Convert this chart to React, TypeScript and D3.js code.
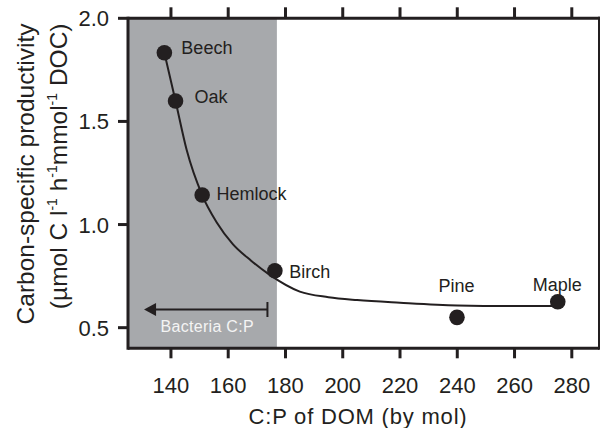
import React from "react";
import * as d3 from "d3";

// ---- data ----
const trees = ["Beech", "Oak", "Hemlock", "Birch", "Pine", "Maple"];
const cpDOM = [137.7, 141.6, 150.9, 176.3, 239.9, 275.1];
const productivity = [1.833, 1.599, 1.143, 0.776, 0.55, 0.626];

// fitted curve
const fitX = [137.7, 141.6, 145.5, 150.9, 156.0, 161.6, 168.0, 174.5, 185.0, 195.0, 205.0, 220.0, 240.0, 260.0, 275.1];
const fitY = [1.833, 1.599, 1.361, 1.143, 1.01, 0.905, 0.825, 0.756, 0.675, 0.648, 0.634, 0.621, 0.608, 0.605, 0.605];

const xTicks = [140, 160, 180, 200, 220, 240, 260, 280];
const yTicks = [0.5, 1.0, 1.5, 2.0];

const bacteriaCPLimit = 177; // shaded region upper bound
const arrowFrom = 173.7;
const arrowTo = 130.6;
const arrowLevel = 0.588;

const xDomain = [125, 289.5];
const yDomain = [0.4, 2.0];

// ---- layout ----
const W = 600;
const H = 428;
const left = 128;
const right = 599;
const top = 18.3;
const bottom = 348.3;

const FONT = "'Liberation Sans', Arial, Helvetica, sans-serif";
const INK = "#231f20";

// label offsets relative to point centre (px)
const labelOffset: Record<string, [number, number, string]> = {
  Beech: [17, 1, "start"],
  Oak: [19, 1.7, "start"],
  Hemlock: [14.4, 5, "start"],
  Birch: [14.3, 7.6, "start"],
  Pine: [-0.5, -25.6, "middle"],
  Maple: [-0.6, -10.7, "middle"],
};

export default function App() {
  const x = d3.scaleLinear().domain(xDomain).range([left, right]);
  const y = d3.scaleLinear().domain(yDomain).range([bottom, top]);

  const fitPts: [number, number][] = fitX.map((v, i) => [v, fitY[i]]);
  const line = d3
    .line<[number, number]>()
    .x((d) => x(d[0]))
    .y((d) => y(d[1]))
    .curve(d3.curveMonotoneX);

  const fmt = d3.format(".1f");
  const ay = y(arrowLevel);
  const tipX = x(arrowTo);
  const barX = x(arrowFrom);

  return (
    <svg
      width={W}
      height={H}
      style={{ position: "absolute", left: 0, top: 0, background: "#fff" }}
      fontFamily={FONT}
    >
      {/* shaded region */}
      <rect
        x={x(xDomain[0])}
        y={top}
        width={x(bacteriaCPLimit) - x(xDomain[0])}
        height={bottom - top}
        fill="#a7a9ac"
      />

      {/* bacteria arrow */}
      <line x1={tipX + 8} x2={barX} y1={ay} y2={ay} stroke={INK} strokeWidth={2} />
      <line x1={barX} x2={barX} y1={ay - 7.5} y2={ay + 7.5} stroke={INK} strokeWidth={2} />
      <path d={`M${tipX},${ay} L${tipX + 12},${ay - 6.5} L${tipX + 12},${ay + 6.5} Z`} fill={INK} />
      <text x={160.5} y={331.7} fontSize={16} letterSpacing={0.3} fill="#f4f4f4">
        Bacteria C:P
      </text>

      {/* fit curve */}
      <path d={line(fitPts) || ""} fill="none" stroke={INK} strokeWidth={2} />

      {/* points */}
      {trees.map((t, i) => (
        <circle key={t} cx={x(cpDOM[i])} cy={y(productivity[i])} r={7.8} fill={INK} />
      ))}
      {trees.map((t, i) => {
        const [dx, dy, anchor] = labelOffset[t];
        return (
          <text
            key={t + "l"}
            x={x(cpDOM[i]) + dx}
            y={y(productivity[i]) + dy}
            fontSize={18}
            fill={INK}
            textAnchor={anchor}
          >
            {t}
          </text>
        );
      })}

      {/* frame */}
      <g stroke={INK} strokeWidth={3} fill="none">
        <line x1={left} x2={right} y1={top} y2={top} />
        <line x1={left} x2={right} y1={bottom} y2={bottom} />
        <line x1={left} x2={left} y1={top - 1.5} y2={bottom + 1.5} />
        <line x1={right} x2={right} y1={top - 1.5} y2={bottom + 1.5} strokeWidth={2} />
        {xTicks.map((t) => (
          <g key={"xt" + t}>
            <line x1={x(t)} x2={x(t)} y1={bottom} y2={bottom + 10} />
            <line x1={x(t)} x2={x(t)} y1={top} y2={top - 11} />
          </g>
        ))}
        {yTicks.map((t) => (
          <g key={"yt" + t}>
            <line x1={left} x2={left - 10} y1={y(t)} y2={y(t)} />
            <line x1={right} x2={right + 10} y1={y(t)} y2={y(t)} />
          </g>
        ))}
      </g>

      {/* tick labels */}
      {xTicks.map((t) => (
        <text key={"xl" + t} x={x(t)} y={392.7} fontSize={22} textAnchor="middle" fill={INK}>
          {t}
        </text>
      ))}
      {yTicks.map((t) => (
        <text key={"yl" + t} x={109} y={y(t) + 8} fontSize={22} textAnchor="end" fill={INK}>
          {fmt(t)}
        </text>
      ))}

      {/* axis titles */}
      <text x={358} y={423.7} fontSize={22} letterSpacing={0.8} textAnchor="middle" fill={INK}>
        C:P of DOM (by mol)
      </text>
      <g transform="translate(33.5,23.5) rotate(-90)">
        <text x={0} y={0} fontSize={24.5} textAnchor="end" fill={INK}>
          Carbon-specific productivity
        </text>
      </g>
      <g transform="translate(66.5,23.5) rotate(-90)">
        <text x={0} y={0} fontSize={24.5} textAnchor="end" fill={INK}>
          (µmol C l
          <tspan fontSize={14} dy={-10}>-1</tspan>
          <tspan dy={10}> h</tspan>
          <tspan fontSize={14} dy={-10}>-1</tspan>
          <tspan dy={10}>mmol</tspan>
          <tspan fontSize={14} dy={-10}>-1</tspan>
          <tspan dy={10}> DOC)</tspan>
        </text>
      </g>
    </svg>
  );
}
